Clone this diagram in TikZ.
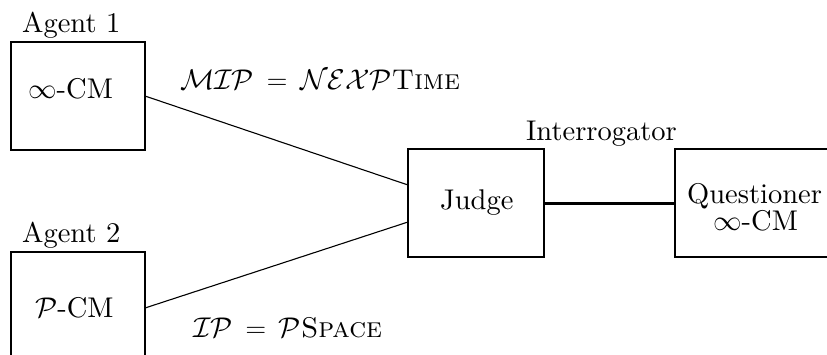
\RequirePackage{fix-cm}
\documentclass[tikz,border=0pt]{standalone}
\usepackage{fontspec}
\setmainfont{lmroman10-regular}[Extension=.otf, SmallCapsFont=lmromancaps10-regular]
\begin{document}
\begin{tikzpicture}[x=1pt,y=-1pt,
  font=\fontsize{28.5}{27}\selectfont,
  box/.style={draw, line width=2pt, inner sep=0pt, outer sep=0pt},
  lbl/.style={anchor=base west, inner sep=0pt},
  thin/.style={line width=1.1pt},
  thick/.style={line width=3pt}]
\useasboundingbox (0,0) rectangle (827,354);
\clip (0,0) rectangle (827,354);
\node[box, minimum width=134pt, minimum height=108pt] (a1) at (78,96) {};
\node[box, minimum width=134pt, minimum height=108pt] (a2) at (78,306) {};
\node[box, minimum width=136pt, minimum height=108pt] (j) at (476,203) {};
\node[box, minimum width=160pt, minimum height=108pt] (q) at (755,203) {};
\node[lbl] (c1) at (28,98) {$\infty$-CM};
\node[lbl] (c2) at (35,317) {$\mathcal{P}$-CM};
\node[lbl] (cj) at (440,209) {Judge};
\node[lbl] (cq1) at (687,203) {Questioner};
\node[lbl] (cq2) at (713,230) {$\infty$-CM};
\node[lbl] (t1) at (22,32) {Agent 1};
\node[lbl] (t2) at (22,242) {Agent 2};
\node[lbl] (ti) at (526,140) {Interrogator};
\node[lbl] (m1) at (180,89) {$\mathcal{MIP}\,=\,\mathcal{NEXP}$\textsc{Time}};
\node[lbl] (m2) at (193,337) {$\mathcal{IP}\,=\,\mathcal{P}$\textsc{Space}};
\draw[thin] (a1.east) -- ([yshift=18pt]j.west);
\draw[thin] ([yshift=-2pt]a2.east) -- ([yshift=-19pt]j.west);
\draw[thick] (j.east) -- (q.west);
\end{tikzpicture}
\end{document}
